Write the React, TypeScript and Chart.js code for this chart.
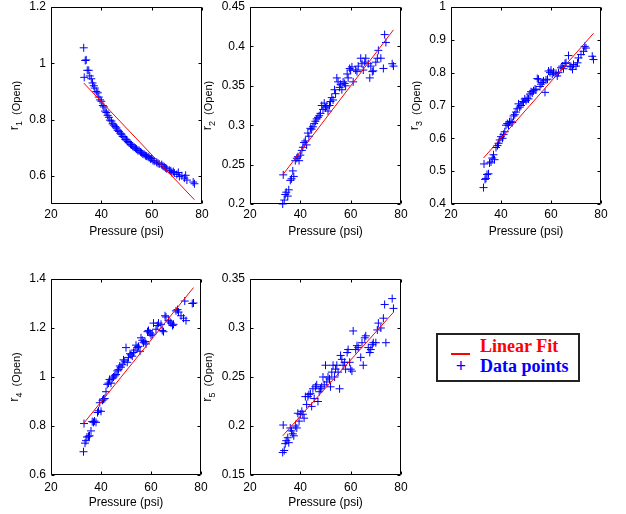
import React, { useEffect, useRef } from "react";
import { Chart, registerables } from "chart.js";

Chart.register(...registerables);

// ---------- data ----------
const pressure = [
  33.0, 33.2, 33.6, 34.0, 34.4, 35.0, 35.4, 36.0, 36.5, 37.0,
  37.4, 38.0, 38.6, 39.0, 39.5, 40.0, 40.6, 41.0, 41.5, 42.0,
  42.5, 43.0, 43.4, 44.0, 44.5, 45.0, 45.5, 46.0, 46.5, 47.0,
  47.5, 48.0, 48.5, 49.0, 49.5, 50.0, 50.5, 51.0, 51.6, 52.0,
  52.5, 53.0, 53.6, 54.0, 54.5, 55.0, 55.6, 56.0, 56.5, 57.0,
  57.6, 58.0, 58.6, 59.0, 59.6, 60.0, 60.5, 61.0, 62.0, 62.5,
  63.0, 64.0, 64.5, 65.0, 65.6, 66.0, 67.0, 67.6, 68.0, 68.6,
  69.0, 70.0, 70.6, 71.0, 72.0, 73.0, 73.5, 74.0, 76.5, 77.0,
];

const r1 = [
  1.055, 0.950, 1.010, 1.012, 0.975, 0.975, 0.955, 0.945, 0.930, 0.920,
  0.912, 0.900, 0.895, 0.880, 0.870, 0.865, 0.850, 0.845, 0.830, 0.825,
  0.815, 0.808, 0.798, 0.795, 0.785, 0.780, 0.775, 0.770, 0.762, 0.758,
  0.752, 0.748, 0.740, 0.738, 0.730, 0.728, 0.722, 0.718, 0.712, 0.710,
  0.705, 0.702, 0.698, 0.695, 0.690, 0.690, 0.685, 0.682, 0.678, 0.676,
  0.672, 0.670, 0.668, 0.665, 0.660, 0.662, 0.655, 0.652, 0.648, 0.645,
  0.642, 0.640, 0.635, 0.632, 0.628, 0.625, 0.620, 0.618, 0.612, 0.615,
  0.610, 0.605, 0.612, 0.598, 0.600, 0.592, 0.602, 0.585, 0.578, 0.572,
];

const r2 = [
  0.200, 0.237, 0.205, 0.212, 0.215, 0.210, 0.218, 0.230, 0.232, 0.242,
  0.235, 0.255, 0.258, 0.260, 0.255, 0.262, 0.268, 0.272, 0.278, 0.280,
  0.275, 0.290, 0.286, 0.296, 0.295, 0.298, 0.302, 0.305, 0.308, 0.310,
  0.312, 0.315, 0.325, 0.320, 0.328, 0.322, 0.324, 0.318, 0.325, 0.330,
  0.335, 0.332, 0.345, 0.340, 0.360, 0.355, 0.348, 0.352, 0.345, 0.355,
  0.353, 0.350, 0.365, 0.360, 0.372, 0.370, 0.374, 0.355, 0.370, 0.368,
  0.375, 0.385, 0.378, 0.370, 0.380, 0.385, 0.378, 0.360, 0.375, 0.368,
  0.369, 0.380, 0.385, 0.395, 0.385, 0.372, 0.415, 0.405, 0.378, 0.375,
];

const r3 = [
  0.450, 0.522, 0.475, 0.478, 0.490, 0.492, 0.525, 0.528, 0.540, 0.550,
  0.535, 0.572, 0.578, 0.585, 0.595, 0.605, 0.600, 0.612, 0.620, 0.640,
  0.645, 0.640, 0.650, 0.652, 0.648, 0.668, 0.672, 0.680, 0.690, 0.705,
  0.695, 0.700, 0.712, 0.710, 0.720, 0.715, 0.722, 0.720, 0.735, 0.742,
  0.738, 0.745, 0.750, 0.748, 0.782, 0.780, 0.758, 0.765, 0.770, 0.775,
  0.740, 0.778, 0.780, 0.805, 0.800, 0.808, 0.795, 0.802, 0.798, 0.790,
  0.800, 0.815, 0.820, 0.812, 0.828, 0.830, 0.852, 0.820, 0.818, 0.810,
  0.825, 0.820, 0.830, 0.845, 0.855, 0.865, 0.880, 0.875, 0.850, 0.840,
];

const r4 = [
  0.695, 0.810, 0.730, 0.740, 0.755, 0.758, 0.760, 0.780, 0.818, 0.815,
  0.820, 0.815, 0.855, 0.862, 0.895, 0.860, 0.905, 0.910, 0.912, 0.940,
  0.970, 0.975, 0.990, 0.975, 0.995, 1.000, 1.005, 1.010, 1.025, 1.030,
  1.045, 1.040, 1.050, 1.070, 1.065, 1.120, 1.060, 1.080, 1.095, 1.090,
  1.085, 1.100, 1.110, 1.130, 1.120, 1.125, 1.105, 1.160, 1.150, 1.140,
  1.145, 1.135, 1.185, 1.190, 1.180, 1.170, 1.175, 1.220, 1.195, 1.210,
  1.220, 1.215, 1.190, 1.185, 1.250, 1.245, 1.230, 1.225, 1.220, 1.210,
  1.215, 1.270, 1.275, 1.265, 1.250, 1.240, 1.310, 1.230, 1.300, 1.302,
];

const r5 = [
  0.173, 0.201, 0.175, 0.182, 0.185, 0.188, 0.183, 0.198, 0.195, 0.192,
  0.190, 0.200, 0.198, 0.213, 0.205, 0.212, 0.215, 0.212, 0.208, 0.230,
  0.222, 0.230, 0.232, 0.233, 0.220, 0.238, 0.228, 0.240, 0.242, 0.225,
  0.235, 0.238, 0.240, 0.250, 0.242, 0.262, 0.245, 0.250, 0.248, 0.240,
  0.255, 0.262, 0.250, 0.258, 0.262, 0.255, 0.238, 0.272, 0.268, 0.262,
  0.265, 0.258, 0.275, 0.278, 0.265, 0.258, 0.256, 0.297, 0.278, 0.282,
  0.280, 0.270, 0.285, 0.262, 0.290, 0.292, 0.280, 0.275, 0.278, 0.283,
  0.285, 0.285, 0.298, 0.305, 0.300, 0.310, 0.324, 0.285, 0.330, 0.320,
];

// linear fit end points
const fitPressure = [33, 77];
const fit1 = [0.93, 0.515];
const fit2 = [0.237, 0.421];
const fit3 = [0.54, 0.92];
const fit4 = [0.81, 1.365];
const fit5 = [0.19, 0.316];

// axes
const xLimits = [20, 80];
const xTicks = [20, 40, 60, 80];
const yLimits1 = [0.5, 1.2];
const yLimits2 = [0.2, 0.45];
const yLimits3 = [0.4, 1.0];
const yLimits4 = [0.6, 1.4];
const yLimits5 = [0.15, 0.35];
const yTicks1 = [0.6, 0.8, 1, 1.2];
const yTicks2 = [0.2, 0.25, 0.3, 0.35, 0.4, 0.45];
const yTicks3 = [0.4, 0.5, 0.6, 0.7, 0.8, 0.9, 1];
const yTicks4 = [0.6, 0.8, 1, 1.2, 1.4];
const yTicks5 = [0.15, 0.2, 0.25, 0.3, 0.35];

const xTitle = "Pressure (psi)";
const yLabelBase = "r";
const yLabelTail = "(Open)";
const legendFit = "Linear Fit";
const legendData = "Data points";

// ---------- helpers ----------
const SANS = '"Liberation Sans", Arial, sans-serif';
const fmt = (v: number) => String(Math.round(v * 1000) / 1000);

type PanelProps = {
  sub: string;
  values: number[];
  fit: number[];
  yLim: number[];
  yTicks: number[];
  box: { cl: number; ct: number; w: number; h: number; pl: number; pt: number; pr: number; pb: number };
  tickPad: number;
};

function Panel({ sub, values, fit, yLim, yTicks, box, tickPad }: PanelProps) {
  const ref = useRef<HTMLCanvasElement | null>(null);

  useEffect(() => {
    if (!ref.current) return;

    const framePlugin = {
      id: "matlabFrame",
      afterDraw(chart: any) {
        const { ctx, chartArea } = chart;
        const xs = chart.scales.x;
        const ys = chart.scales.y;
        const L = Math.round(chartArea.left) + 0.5;
        const R = Math.round(chartArea.right) - 0.5;
        const T = Math.round(chartArea.top) + 0.5;
        const B = Math.round(chartArea.bottom) - 0.5;
        const tl = 3;
        ctx.save();
        ctx.strokeStyle = "#000";
        ctx.lineWidth = 1;
        ctx.beginPath();
        ctx.rect(L, T, R - L, B - T);
        xs.ticks.forEach((t: any) => {
          const px = Math.round(xs.getPixelForValue(t.value)) + 0.5;
          ctx.moveTo(px, B);
          ctx.lineTo(px, B - tl);
          ctx.moveTo(px, T);
          ctx.lineTo(px, T + tl);
        });
        ys.ticks.forEach((t: any) => {
          const py = Math.round(ys.getPixelForValue(t.value)) + 0.5;
          ctx.moveTo(L, py);
          ctx.lineTo(L + tl, py);
          ctx.moveTo(R, py);
          ctx.lineTo(R - tl, py);
        });
        ctx.stroke();

        // y title "r_n  (Open)" with subscript, rotated
        ctx.font = `12px ${SANS}`;
        let maxW = 0;
        ys.ticks.forEach((t: any) => {
          maxW = Math.max(maxW, ctx.measureText(fmt(t.value)).width);
        });
        const xc = chartArea.left - 5 - maxW - 11;
        const yc = (chartArea.top + chartArea.bottom) / 2;
        const fBase = `13px ${SANS}`;
        const fSub = `9px ${SANS}`;
        const fTail = `11px ${SANS}`;
        ctx.font = fBase;
        const wBase = ctx.measureText(yLabelBase).width;
        ctx.font = fSub;
        const wSub = ctx.measureText(sub).width;
        ctx.font = fTail;
        const wTail = ctx.measureText(yLabelTail).width;
        const gap = 6;
        const total = wBase + wSub + gap + wTail;
        let pos = -total / 2;
        ctx.translate(xc, yc);
        ctx.rotate(-Math.PI / 2);
        ctx.fillStyle = "#000";
        ctx.textAlign = "left";
        ctx.textBaseline = "alphabetic";
        ctx.font = fBase;
        ctx.fillText(yLabelBase, pos, 0);
        pos += wBase;
        ctx.font = fSub;
        ctx.fillText(sub, pos, 4);
        pos += wSub + gap;
        ctx.font = fTail;
        ctx.fillText(yLabelTail, pos, 1.5);
        ctx.restore();
      },
    };

    const chart = new Chart(ref.current, {
      type: "scatter",
      data: {
        datasets: [
          {
            label: legendFit,
            data: fitPressure.map((p, i) => ({ x: p, y: fit[i] })),
            showLine: true,
            borderColor: "#ff0000",
            backgroundColor: "#ff0000",
            borderWidth: 1,
            pointRadius: 0,
            pointHoverRadius: 0,
            fill: false,
          },
          {
            label: legendData,
            data: pressure.map((p, i) => ({ x: p, y: values[i] })),
            showLine: false,
            pointStyle: "cross",
            pointRadius: 4,
            pointHoverRadius: 4,
            pointBorderColor: "#0000ff",
            pointBackgroundColor: "#0000ff",
            pointBorderWidth: 1,
            clip: false as any,
          },
        ],
      },
      options: {
        responsive: false,
        maintainAspectRatio: false,
        animation: false,
        events: [],
        layout: {
          padding: {
            left: 0,
            top: box.pt - box.ct,
            right: box.cl + box.w - box.pr,
            bottom: 0,
          },
        },
        plugins: {
          legend: { display: false },
          tooltip: { enabled: false },
          title: { display: false },
        },
        scales: {
          x: {
            type: "linear",
            position: "bottom",
            min: xLimits[0],
            max: xLimits[1],
            afterBuildTicks: (s: any) => {
              s.ticks = xTicks.map((v) => ({ value: v }));
            },
            afterFit: (s: any) => {
              s.height = box.ct + box.h - box.pb;
              s.paddingLeft = 0;
              s.paddingRight = 0;
            },
            grid: { display: false, drawTicks: false },
            border: { display: false },
            ticks: {
              color: "#000",
              font: { family: SANS, size: 12 },
              padding: tickPad,
              autoSkip: false,
              maxRotation: 0,
              callback: (v: any) => fmt(Number(v)),
            },
            title: {
              display: true,
              text: xTitle,
              color: "#000",
              font: { family: SANS, size: 12 },
              padding: { top: 0, bottom: 0 },
            },
          },
          y: {
            type: "linear",
            position: "left",
            min: yLim[0],
            max: yLim[1],
            afterBuildTicks: (s: any) => {
              s.ticks = yTicks.map((v) => ({ value: v }));
            },
            afterFit: (s: any) => {
              s.width = box.pl - box.cl;
              s.paddingTop = 0;
              s.paddingBottom = 0;
            },
            grid: { display: false, drawTicks: false },
            border: { display: false },
            ticks: {
              color: "#000",
              font: { family: SANS, size: 12 },
              padding: 5,
              autoSkip: false,
              callback: (v: any) => fmt(Number(v)),
            },
          },
        },
      },
      plugins: [framePlugin],
    } as any);

    return () => chart.destroy();
  }, []);

  return (
    <canvas
      ref={ref}
      width={box.w}
      height={box.h}
      style={{ position: "absolute", left: box.cl, top: box.ct, width: box.w, height: box.h }}
    />
  );
}

export default function App() {
  const legendFont = 'bold 18px "Liberation Serif", "Times New Roman", serif';
  return (
    <div style={{ position: "absolute", left: 0, top: 0, width: 626, height: 514, background: "#fff", overflow: "hidden" }}>
      <Panel sub="1" values={r1} fit={fit1} yLim={yLimits1} yTicks={yTicks1} tickPad={3}
        box={{ cl: 0, ct: 0, w: 210, h: 239, pl: 51, pt: 7, pr: 202, pb: 204 }} />
      <Panel sub="2" values={r2} fit={fit2} yLim={yLimits2} yTicks={yTicks2} tickPad={3}
        box={{ cl: 200, ct: 0, w: 212, h: 239, pl: 250, pt: 7, pr: 401, pb: 204 }} />
      <Panel sub="3" values={r3} fit={fit3} yLim={yLimits3} yTicks={yTicks3} tickPad={3}
        box={{ cl: 410, ct: 0, w: 216, h: 239, pl: 451, pt: 7, pr: 601, pb: 204 }} />
      <Panel sub="4" values={r4} fit={fit4} yLim={yLimits4} yTicks={yTicks4} tickPad={5}
        box={{ cl: 0, ct: 272, w: 210, h: 238, pl: 51, pt: 279, pr: 201, pb: 475 }} />
      <Panel sub="5" values={r5} fit={fit5} yLim={yLimits5} yTicks={yTicks5} tickPad={5}
        box={{ cl: 200, ct: 272, w: 212, h: 238, pl: 250, pt: 279, pr: 401, pb: 475 }} />

      {/* legend */}
      <div style={{ position: "absolute", left: 436, top: 333, width: 144, height: 49, border: "2px solid #222", boxSizing: "border-box", background: "#fff" }} />
      <div style={{ position: "absolute", left: 451, top: 353, width: 19, height: 2, background: "#ff0000" }} />
      <span style={{ position: "absolute", left: 480, top: 337, font: legendFont, lineHeight: "18px", color: "#ff0000", whiteSpace: "nowrap" }}>{legendFit}</span>
      <span style={{ position: "absolute", left: 452, width: 18, textAlign: "center", top: 357, font: legendFont, lineHeight: "18px", color: "#0000ff" }}>+</span>
      <span style={{ position: "absolute", left: 480, top: 357, font: legendFont, lineHeight: "18px", color: "#0000ff", whiteSpace: "nowrap" }}>{legendData}</span>
    </div>
  );
}
